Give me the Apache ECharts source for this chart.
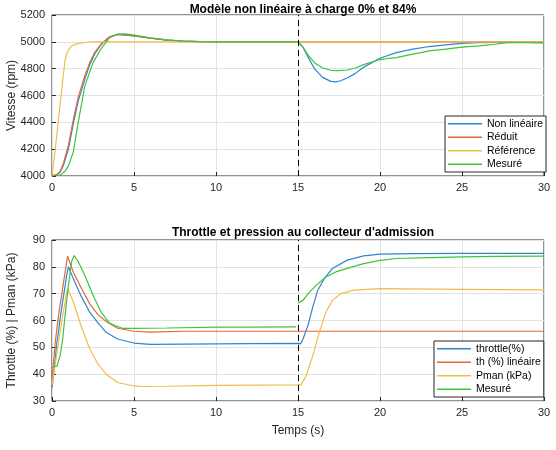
<!DOCTYPE html>
<html>
<head>
<meta charset="utf-8">
<script src="https://cdn.jsdelivr.net/npm/echarts@6/dist/echarts.min.js"></script>
<style>
  html, body { margin: 0; padding: 0; background: #fff; }
  #chart { width: 556px; height: 450px; }
</style>
</head>
<body>
<div id="chart"></div>
<script>
// temps de l'échelon de charge
var loadStepTime = 15;

// --- vitesse (rpm) ---
var tRef = [0, 0.2, 0.4, 0.6, 0.8, 0.9, 1.0, 1.2, 1.5, 2, 2.5, 3, 30];
var vRef = [4000, 4200, 4430, 4650, 4870, 4910, 4940, 4970, 4985, 4995, 4999, 5000, 5000];

var tNonLin = [0, 0.3, 0.5, 0.7, 1.0, 1.3, 1.6, 2.0, 2.3, 2.6, 3.0, 3.5, 4.0, 5, 6, 7, 8, 9, 10, 15,
    15.3, 15.6, 16, 16.5, 17, 17.3, 17.6, 18, 18.5, 19, 19.5, 20, 21, 22, 23, 24, 25, 26, 27, 28, 30];
var vNonLin = [4000, 4010, 4030, 4080, 4200, 4390, 4560, 4720, 4830, 4910, 4980, 5035, 5055, 5045, 5028, 5013, 5005, 5002, 5000, 5000,
    4960, 4890, 4800, 4735, 4705, 4702, 4710, 4730, 4765, 4810, 4845, 4878, 4920, 4945, 4965, 4978, 4988, 4993, 4996, 4998, 5000];

var tRed = [0, 0.3, 0.5, 0.7, 1.0, 1.3, 1.6, 2.0, 2.3, 2.6, 3.0, 3.5, 4.0, 5, 6, 7, 8, 9, 10, 30];
var vRed = [4000, 4012, 4035, 4095, 4230, 4420, 4590, 4745, 4845, 4920, 4985, 5038, 5055, 5045, 5028, 5013, 5005, 5002, 5000, 5000];

var tMesV = [0, 0.3, 0.5, 0.8, 1.0, 1.3, 1.6, 2.0, 2.5, 3.0, 3.5, 4.0, 4.5, 5, 6, 7, 8, 9, 10, 15,
    15.3, 15.6, 16, 16.5, 17, 17.5, 18, 18.5, 19, 19.5, 20, 20.5, 21, 21.5, 22, 22.5, 23, 24, 25, 26, 26.5, 27, 27.5, 28, 29, 30];
var vMesV = [4000, 4003, 4008, 4035, 4075, 4180, 4400, 4670, 4845, 4950, 5030, 5058, 5060, 5050, 5030, 5015, 5005, 5001, 5000, 5000,
    4960, 4905, 4845, 4805, 4788, 4785, 4790, 4805, 4830, 4850, 4868, 4876, 4882, 4895, 4908, 4920, 4932, 4945, 4960, 4970, 4976, 4982, 4990, 4995, 4993, 4990];

// --- throttle / pression ---
var tThr = [0, 0.1, 0.2, 0.3, 0.4, 0.5, 0.6, 0.7, 0.8, 0.9, 1.0, 1.3, 1.8, 2.3, 2.8, 3.3, 4.0, 5, 6, 8, 10, 12, 15,
    15.15, 15.3, 15.6, 15.9, 16.2, 16.6, 17.1, 18, 19, 20, 22, 25, 30];
var vThr = [35, 40, 46, 52, 56, 61, 65, 69, 73, 77, 80, 75.6, 68.8, 63.1, 59.1, 55.6, 53.1, 51.6, 51.1, 51.2, 51.3, 51.4, 51.5,
    51.3, 53, 58, 65, 71.2, 75.6, 79.4, 82.5, 84.1, 84.7, 84.9, 85, 85];

var tThLin = [0, 0.1, 0.2, 0.3, 0.4, 0.5, 0.6, 0.7, 0.8, 0.95, 1.3, 1.8, 2.3, 2.8, 3.3, 4.0, 5, 6, 8, 30];
var vThLin = [38, 45, 52, 57, 62, 66, 70, 74, 78, 84, 78, 71.9, 66.2, 62.2, 59.6, 57.1, 56, 55.7, 56, 56];

var tPman = [0, 0.2, 0.4, 0.6, 0.8, 0.95, 1.3, 1.8, 2.3, 2.8, 3.3, 4.0, 5, 5.5, 7, 10, 15,
    15.2, 15.5, 15.9, 16.3, 16.7, 17.1, 17.6, 18.4, 20, 25, 30];
var vPman = [36, 44, 52, 60, 67, 72, 66.9, 57.5, 49.4, 43.8, 40, 36.9, 35.6, 35.4, 35.5, 35.8, 36,
    36.2, 39.4, 46.9, 55.6, 63.1, 67.5, 70, 71.3, 71.9, 71.6, 71.4];

var tMesP = [0, 0.3, 0.5, 0.65, 0.8, 1.0, 1.2, 1.35, 1.6, 2.0, 2.5, 3.0, 3.5, 3.9, 4.3, 5, 7, 10, 12, 14.9,
    14.95, 15, 15.3, 15.7, 16.1, 16.7, 17.3, 18, 19, 20, 21, 23, 25, 27, 30];
var vMesP = [42.5, 43, 47, 53, 62, 73, 82, 84.2, 81.9, 76.9, 69.4, 63.1, 59.1, 57.9, 57.1, 57.1, 57.2, 57.5, 57.5, 57.6,
    null, 66.5, 67.5, 70.6, 73.1, 76.2, 78.1, 79.4, 81.2, 82.4, 83.1, 83.4, 83.7, 83.9, 84];

var namesV = ['Non linéaire', 'Réduit', 'Référence', 'Mesuré'];
var namesP = ['throttle(%)', 'th (%) linéaire', 'Pman (kPa)', 'Mesuré'];
var colors = ['#2f86cc', '#de6a3a', '#f0bd4c', '#3cc43c'];

var FONT = 'Liberation Sans, Arial, Helvetica, sans-serif';
var AX = '#262626';

function pairs(t, v) {
    return t.map(function (x, i) { return [x, v[i]]; });
}

function lineSeries(name, data, idx, color, withStep) {
    var s = {
        name: name,
        type: 'line',
        xAxisIndex: idx,
        yAxisIndex: idx,
        data: data,
        symbol: 'none',
        connectNulls: false,
        lineStyle: { width: 1.2, color: color },
        itemStyle: { color: color },
        animation: false
    };
    if (withStep) {
        s.markLine = {
            silent: true,
            symbol: 'none',
            label: { show: false },
            lineStyle: { color: '#000', type: [6, 4], width: 1 },
            data: [{ xAxis: loadStepTime }]
        };
    }
    return s;
}

function xAx(idx, name) {
    return {
        type: 'value', gridIndex: idx, min: 0, max: 30, interval: 5,
        name: name, nameLocation: 'middle', nameGap: 24, nameMoveOverlap: false,
        nameTextStyle: { fontFamily: FONT, fontSize: 12, color: AX },
        axisLine: { show: false },
        axisTick: { inside: true, length: 4, lineStyle: { color: AX } },
        axisLabel: { fontFamily: FONT, fontSize: 11, color: AX, margin: 6 },
        splitLine: { lineStyle: { color: '#e2e2e2' } }
    };
}

function yAx(idx, min, max, interval, name) {
    return {
        type: 'value', gridIndex: idx, min: min, max: max, interval: interval,
        name: name, nameLocation: 'middle', nameGap: 34, nameRotate: 90, nameMoveOverlap: false,
        nameTextStyle: { fontFamily: FONT, fontSize: 12, color: AX },
        axisLine: { show: false },
        axisTick: { inside: true, length: 4, lineStyle: { color: AX } },
        axisLabel: {
            fontFamily: FONT, fontSize: 11, color: AX, margin: 7,
            formatter: function (v) { return String(v); }
        },
        splitLine: { lineStyle: { color: '#e2e2e2' } }
    };
}

function legendBox(idx, names, left, top, itemWidth) {
    return {
        orient: 'vertical',
        left: left, top: top,
        data: names.map(function (n) { return { name: n, icon: 'rect' }; }),
        itemWidth: itemWidth, itemHeight: 1.5, itemGap: 0,
        padding: [1, 3, 1, 3],
        borderColor: AX, borderWidth: 1, backgroundColor: '#fff',
        selectedMode: false,
        textStyle: { fontFamily: FONT, fontSize: 10.5, color: '#000', lineHeight: 13.5 }
    };
}

var myChart = echarts.init(document.getElementById('chart'), null, { renderer: 'canvas' });

var option = {
    backgroundColor: '#fff',
    animation: false,
    title: [
        { text: 'Modèle non linéaire à charge 0% et 84%', left: 298, top: -1, textAlign: 'center',
          textStyle: { fontFamily: FONT, fontSize: 12, fontWeight: 'bold', color: '#000' } },
        { text: "Throttle et pression au collecteur d'admission", left: 298, top: 222, textAlign: 'center',
          textStyle: { fontFamily: FONT, fontSize: 12, fontWeight: 'bold', color: '#000' } }
    ],
    grid: [
        { left: 52, top: 15, width: 492, height: 161, show: true, borderColor: AX, borderWidth: 1,
          containLabel: false, outerBoundsMode: 'none' },
        { left: 52, top: 240, width: 492, height: 161, show: true, borderColor: AX, borderWidth: 1,
          containLabel: false, outerBoundsMode: 'none' }
    ],
    xAxis: [xAx(0, ''), xAx(1, 'Temps (s)')],
    yAxis: [yAx(0, 4000, 5200, 200, 'Vitesse (rpm)'), yAx(1, 30, 90, 10, 'Throttle (%) | Pman (kPa)')],
    legend: [
        legendBox(0, namesV, 445, 116, 34),
        legendBox(1, namesP, 434, 341, 34)
    ],
    series: [
        lineSeries(namesV[0], pairs(tNonLin, vNonLin), 0, colors[0], true),
        lineSeries(namesV[1], pairs(tRed, vRed), 0, colors[1]),
        lineSeries(namesV[2], pairs(tRef, vRef), 0, colors[2]),
        lineSeries(namesV[3], pairs(tMesV, vMesV), 0, colors[3]),
        lineSeries(namesP[0], pairs(tThr, vThr), 1, colors[0], true),
        lineSeries(namesP[1], pairs(tThLin, vThLin), 1, colors[1]),
        lineSeries(namesP[2], pairs(tPman, vPman), 1, colors[2]),
        lineSeries(namesP[3], pairs(tMesP, vMesP), 1, colors[3])
    ]
};
myChart.setOption(option);
</script>
</body>
</html>
